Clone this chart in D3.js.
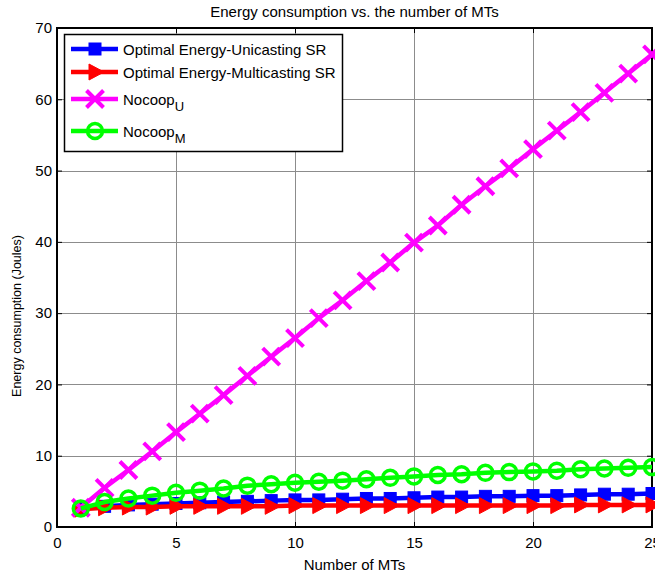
<!DOCTYPE html>
<html>
<head>
<meta charset="utf-8">
<script src="https://cdn.jsdelivr.net/npm/d3@7"></script>
<style>
  html, body { margin: 0; padding: 0; background: #fff; }
  svg { display: block; font-family: "Liberation Sans", Arial, sans-serif; }
</style>
</head>
<body>
<svg id="chart" width="655" height="579"></svg>
<script>
// Number of mobile terminals (x-axis)
const mts = d3.range(1, 26);

// Energy consumption per scheme (Joules)
const unicastSR = [2.6, 2.9, 3.1, 3.2, 3.3, 3.4, 3.5, 3.6, 3.7, 3.8, 3.8, 3.9, 4.0,
                   4.0, 4.1, 4.2, 4.2, 4.3, 4.3, 4.4, 4.4, 4.5, 4.6, 4.6, 4.7];
const multicastSR = [2.5, 2.7, 2.8, 2.8, 2.9, 2.9, 2.9, 2.9, 2.9, 3.0, 3.0, 3.0, 3.0,
                     3.0, 3.0, 3.0, 3.0, 3.0, 3.0, 3.0, 3.0, 3.1, 3.1, 3.1, 3.1];
const nocoopU = [2.7, 5.5, 8.0, 10.6, 13.3, 15.9, 18.5, 21.2, 23.9, 26.5, 29.3, 31.8, 34.5,
                 37.1, 39.9, 42.3, 45.2, 47.8, 50.3, 53.0, 55.6, 58.2, 60.9, 63.6, 66.3];
const nocoopM = [2.6, 3.5, 4.0, 4.4, 4.8, 5.1, 5.4, 5.8, 6.0, 6.2, 6.35, 6.5, 6.7,
                 6.9, 7.1, 7.3, 7.4, 7.6, 7.7, 7.8, 7.9, 8.1, 8.2, 8.3, 8.4];

const xTicks = [0, 5, 10, 15, 20, 25];
const yTicks = [0, 10, 20, 30, 40, 50, 60, 70];

const title = "Energy consumption vs. the number of MTs";
const xLabel = "Number of MTs";
const yLabel = "Energy consumption (Joules)";

const series = [
  { name: "Optimal Energy-Unicasting SR", sub: null, values: unicastSR, color: "#0000ff", marker: "square" },
  { name: "Optimal Energy-Multicasting SR", sub: null, values: multicastSR, color: "#ff0000", marker: "triangle" },
  { name: "Nocoop", sub: "U", values: nocoopU, color: "#ff00ff", marker: "cross" },
  { name: "Nocoop", sub: "M", values: nocoopM, color: "#00ff00", marker: "circle" }
];

const svg = d3.select("#chart");
const plot = { left: 57, right: 652, top: 28, bottom: 527 };
const cx = (plot.left + plot.right) / 2;

const x = d3.scaleLinear().domain([0, 25]).range([plot.left, plot.right]);
const y = d3.scaleLinear().domain([0, 70]).range([plot.bottom, plot.top]);

// grid
const grid = svg.append("g").attr("stroke", "#8c8c8c").attr("stroke-width", 1);
grid.selectAll("line.gx").data(xTicks.slice(1, -1)).join("line")
  .attr("x1", d => Math.round(x(d)) + 0.5).attr("x2", d => Math.round(x(d)) + 0.5)
  .attr("y1", plot.top).attr("y2", plot.bottom);
grid.selectAll("line.gy").data(yTicks.slice(1, -1)).join("line")
  .attr("y1", d => Math.round(y(d)) + 0.5).attr("y2", d => Math.round(y(d)) + 0.5)
  .attr("x1", plot.left).attr("x2", plot.right);

// axes
const fontSize = 15;
const axisBottom = d3.axisBottom(x).tickValues(xTicks).tickSize(-5).tickPadding(10);
const axisLeft = d3.axisLeft(y).tickValues(yTicks).tickSize(-5).tickPadding(5);
const axisTop = d3.axisTop(x).tickValues(xTicks).tickSize(-5).tickFormat("");
const axisRight = d3.axisRight(y).tickValues(yTicks).tickSize(-5).tickFormat("");

function styleAxis(g) {
  g.select(".domain").remove();
  g.selectAll("line").attr("stroke", "#000");
  g.selectAll("text").attr("font-size", fontSize).attr("fill", "#000")
    .attr("font-family", "'Liberation Sans', Arial, sans-serif");
}
svg.append("g").attr("transform", `translate(0,${plot.bottom})`).call(axisBottom).call(styleAxis);
svg.append("g").attr("transform", `translate(${plot.left},0)`).call(axisLeft).call(styleAxis);
svg.append("g").attr("transform", `translate(0,${plot.top})`).call(axisTop).call(styleAxis);
svg.append("g").attr("transform", `translate(${plot.right},0)`).call(axisRight).call(styleAxis);

// frame
svg.append("rect")
  .attr("x", plot.left).attr("y", plot.top)
  .attr("width", plot.right - plot.left).attr("height", plot.bottom - plot.top)
  .attr("fill", "none").attr("stroke", "#000").attr("stroke-width", 2);

// markers
function drawMarker(g, type, color) {
  if (type === "square") {
    g.append("rect").attr("x", -6).attr("y", -6).attr("width", 12).attr("height", 12)
      .attr("fill", color).attr("stroke", color).attr("stroke-width", 1);
  } else if (type === "triangle") {
    g.append("path").attr("d", "M-6,-8L9,0L-6,8Z")
      .attr("fill", color).attr("stroke", color).attr("stroke-width", 1);
  } else if (type === "cross") {
    g.append("path").attr("d", "M-8.5,-8.5L8.5,8.5M-8.5,8.5L8.5,-8.5")
      .attr("fill", "none").attr("stroke", color).attr("stroke-width", 4);
  } else if (type === "circle") {
    g.append("circle").attr("r", 7.5)
      .attr("fill", "none").attr("stroke", color).attr("stroke-width", 3.5);
  }
}

const line = d3.line().x((d, i) => x(mts[i])).y(d => y(d));
const plotArea = svg.append("g");
series.forEach(s => {
  const g = plotArea.append("g");
  g.append("path").datum(s.values).attr("d", line)
    .attr("fill", "none").attr("stroke", s.color).attr("stroke-width", 4.5)
    .attr("stroke-linejoin", "round");
  g.selectAll("g.m").data(s.values).join("g")
    .attr("transform", (d, i) => `translate(${x(mts[i])},${y(d)})`)
    .each(function () { drawMarker(d3.select(this), s.marker, s.color); });
});

// legend
const legend = svg.append("g");
legend.append("rect").attr("x", 64.5).attr("y", 34.5).attr("width", 278).attr("height", 117)
  .attr("fill", "#fff").attr("stroke", "#000").attr("stroke-width", 1.5);
const legendY = [49, 72, 99, 131];
series.forEach((s, i) => {
  const g = legend.append("g").attr("transform", `translate(0,${legendY[i]})`);
  g.append("line").attr("x1", 71).attr("x2", 118).attr("y1", 0).attr("y2", 0)
    .attr("stroke", s.color).attr("stroke-width", 4.5);
  drawMarker(g.append("g").attr("transform", "translate(95,0)"), s.marker, s.color);
  const t = g.append("text").attr("x", 123).attr("y", 5.5)
    .attr("font-size", 15).attr("fill", "#000").text(s.name);
  if (s.sub) {
    t.append("tspan").attr("dy", 6).attr("font-size", 13).text(s.sub);
  }
});

// titles
svg.append("text").attr("x", cx).attr("y", 17).attr("text-anchor", "middle")
  .attr("font-size", 15).text(title);
svg.append("text").attr("x", cx).attr("y", 570).attr("text-anchor", "middle")
  .attr("font-size", 15).text(xLabel);
svg.append("text").attr("transform", "translate(21,316) rotate(-90)")
  .attr("text-anchor", "middle").attr("font-size", 12.5).text(yLabel);
</script>
</body>
</html>
